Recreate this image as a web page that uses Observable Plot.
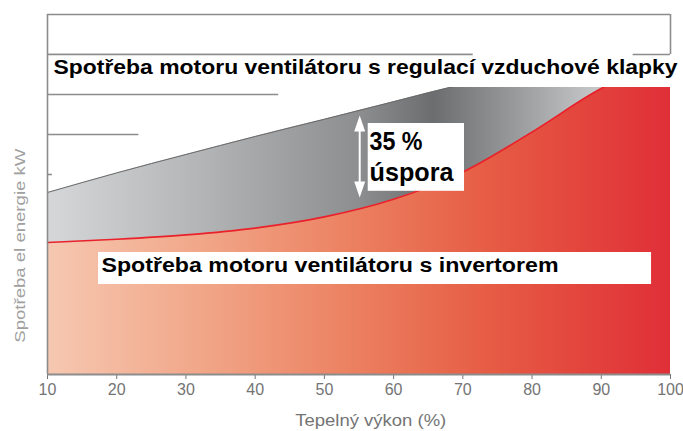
<!DOCTYPE html>
<html><head><meta charset="utf-8">
<script src="https://cdn.jsdelivr.net/npm/d3@7"></script>
<script src="https://cdn.jsdelivr.net/npm/@observablehq/plot@0.6"></script>
<style>body{margin:0;background:#fff}#chart{width:683px;height:431px;overflow:hidden}</style>
</head><body><div id="chart"></div>
<script>
// ---- data ----
const xValues        = [10, 20, 30, 40, 50, 60, 70, 80, 90, 100];       // Tepelný výkon (%)
const damperValues   = [4.55, 5.04, 5.5, 5.95, 6.38, 6.82, 7.25, 7.6, 7.8, 7.9]; // regulace klapkou
const inverterValues = [3.30, 3.38, 3.49, 3.66, 3.94, 4.38, 5.06, 6.06, 7.15, 7.9]; // invertor
const xTicks = [10, 20, 30, 40, 50, 60, 70, 80, 90, 100];
const gridLevels = [5, 6, 7, 8, 9];
const gridEnds   = [10.7, 23.2, 43.4, 71.5, 100];
const labelDamper   = "Spotřeba motoru ventilátoru s regulací vzduchové klapky";
const labelInverter = "Spotřeba motoru ventilátoru s invertorem";
const savingLines   = ["35 %", "úspora"];
const xTitle = "Tepelný výkon (%)";
const yTitle = "Spotřeba el energie kW";

// ---- annotation layout (data units) ----
const boxes = [
  {x1: 10, x2: 101.9, y1: 7.175, y2: 8},
  {x1: 17.37, x2: 97.26, y1: 2.25, y2: 3.05},
  {x1: 56.33, x2: 70.24, y1: 4.58, y2: 6.275}
];
const arrowX = 55.1;
const arrowHeads = [{y: 6.475, rotate: 0}, {y: 4.425, rotate: 180}];
const savingY = [5.83, 5.04];

const damper = xValues.map((x, i) => ({x, y: damperValues[i]}));
const inverter = xValues.map((x, i) => ({x, y: inverterValues[i]}));
const grid = gridLevels.map((y, i) => ({y, x2: gridEnds[i]}));

const spike = {draw(ctx, l, r) { ctx.moveTo(-r, 0); ctx.lineTo(0, -l); ctx.lineTo(r, 0); ctx.closePath(); }};
const gridColor = "#8c8c8c";
const font = "'Liberation Sans', Arial, sans-serif";

const chart = Plot.plot({
  width: 683, height: 431,
  marginLeft: 47, marginRight: 13, marginTop: 14, marginBottom: 57,
  style: {fontFamily: font, fontSize: "16px", color: "#747474", background: "#fff"},
  x: {domain: [10, 100], ticks: xTicks, tickSize: 5, tickPadding: 4, label: null, tickFormat: d => String(d)},
  y: {domain: [0, 9], axis: null},
  marks: [
    Plot.ruleY(grid, {y: "y", x1: 10, x2: "x2", stroke: gridColor, strokeWidth: 1.6}),
    Plot.areaY(damper, {x: "x", y: "y", fill: "url(#gGray)", curve: "monotone-x"}),
    Plot.line(damper, {x: "x", y: "y", stroke: "#6a6a6a", strokeWidth: 1, curve: "monotone-x"}),
    Plot.areaY(inverter, {x: "x", y: "y", fill: "url(#gRed)", curve: "monotone-x"}),
    Plot.line(inverter, {x: "x", y: "y", stroke: "#e8222c", strokeWidth: 1.6, curve: "monotone-x"}),
    Plot.rect(boxes, {x1: "x1", x2: "x2", y1: "y1", y2: "y2", fill: "white"}),
    Plot.ruleY([8], {x1: 10, x2: gridEnds[3], stroke: gridColor, strokeWidth: 1.6}),
    Plot.ruleY([8], {x1: 94.6, x2: 100, stroke: gridColor, strokeWidth: 1.6}),
    Plot.ruleX([10], {y1: 0, y2: 9, stroke: gridColor, strokeWidth: 1.6}),
    Plot.ruleX([100], {y1: 8, y2: 9, stroke: gridColor, strokeWidth: 1.6}),
    Plot.ruleY([0], {x1: 10, x2: 100, stroke: gridColor, strokeWidth: 2}),
    Plot.ruleX([arrowX], {y1: 4.6, y2: 6.3, stroke: "white", strokeWidth: 2}),
    Plot.vector(arrowHeads, {x: () => arrowX, y: "y", rotate: "rotate", length: 16, r: 5.5, anchor: "end", shape: spike, fill: "white", stroke: "none"}),
    Plot.text([labelDamper], {text: d => d, x: () => 10.87, y: () => 7.69, textAnchor: "start", lineAnchor: "middle", fontSize: 21, fontWeight: "bold", fill: "#000"}),
    Plot.text([labelInverter], {text: d => d, x: () => 17.8, y: () => 2.725, textAnchor: "start", lineAnchor: "middle", fontSize: 20, fontWeight: "bold", fill: "#000"}),
    Plot.text(savingLines, {text: d => d, x: () => 56.52, y: (d, i) => savingY[i], textAnchor: "start", lineAnchor: "middle", fontSize: 26, fontWeight: "bold", fill: "#000"}),
    Plot.text([xTitle], {text: d => d, x: () => 56.7, frameAnchor: "bottom", dy: 46, lineAnchor: "middle", fontSize: 16, fill: "#747474"}),
    Plot.text([yTitle], {text: d => d, y: () => 3.22, frameAnchor: "left", dx: -27, rotate: -90, textAnchor: "middle", lineAnchor: "middle", fontSize: 15, fill: "#a0a0a0"})
  ]
});

const svg = chart.tagName.toLowerCase() === "svg" ? chart : chart.querySelector("svg");
const ns = "http://www.w3.org/2000/svg";
const defs = document.createElementNS(ns, "defs");
function grad(id, stops) {
  const g = document.createElementNS(ns, "linearGradient");
  g.setAttribute("id", id);
  g.setAttribute("x1", "0"); g.setAttribute("x2", "1"); g.setAttribute("y1", "0"); g.setAttribute("y2", "0");
  for (const [o, c] of stops) {
    const s = document.createElementNS(ns, "stop");
    s.setAttribute("offset", o); s.setAttribute("stop-color", c); g.appendChild(s);
  }
  defs.appendChild(g);
}
grad("gGray", [[0, "#d5d7d9"], [0.25, "#b3b4b6"], [0.5, "#8d8e90"], [0.62, "#6c6d6f"], [0.76, "#9c9d9f"], [0.88, "#c5c6c7"], [1, "#d0d0d0"]]);
grad("gRed", [[0, "#f6c8b1"], [0.25, "#f1a688"], [0.5, "#eb7f5f"], [0.7, "#e65e45"], [0.85, "#e3463d"], [1, "#e02f38"]]);
svg.insertBefore(defs, svg.firstChild);

const lengths = new Map([[labelDamper, 624], [labelInverter, 457], ["35 %", 53], ["úspora", 84], [xTitle, 151], [yTitle, 194]]);
svg.querySelectorAll("text").forEach(t => {
  const L = lengths.get(t.textContent);
  if (L) { t.setAttribute("textLength", L); t.setAttribute("lengthAdjust", "spacingAndGlyphs"); }
});
document.getElementById("chart").appendChild(chart);
</script>
</body></html>
